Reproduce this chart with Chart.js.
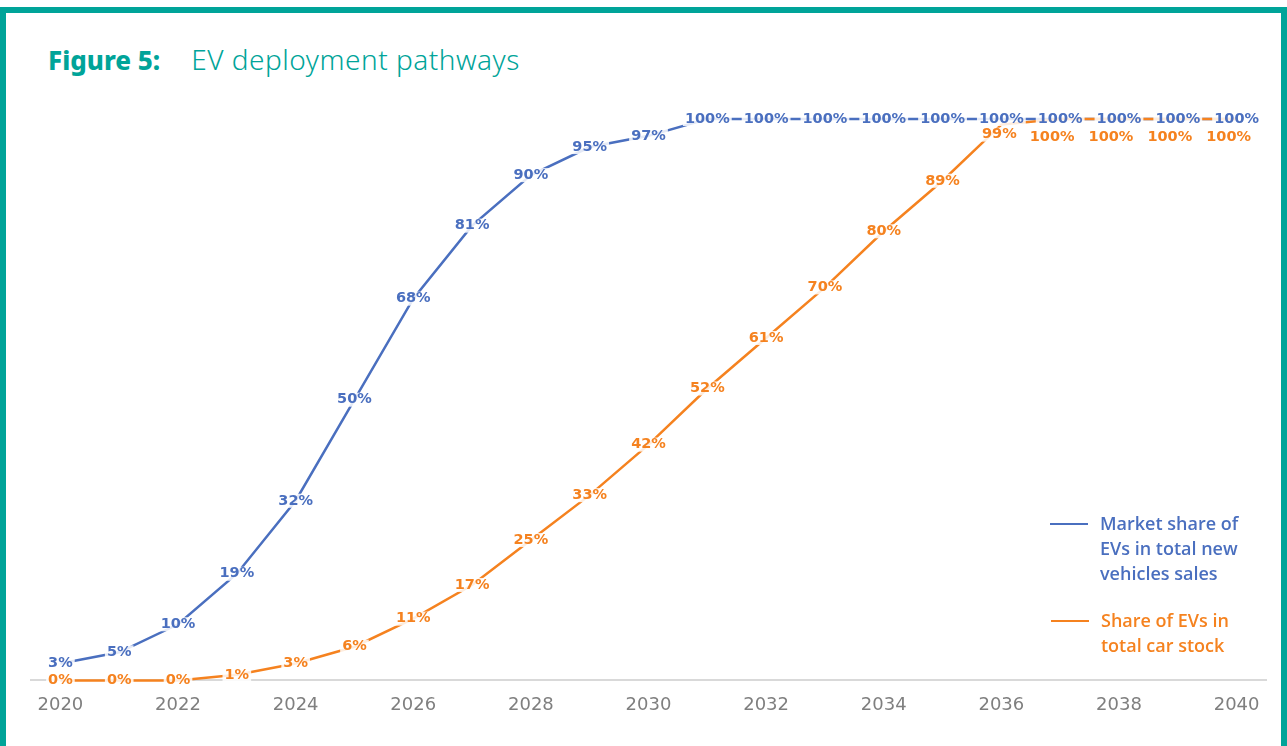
<!DOCTYPE html>
<html>
<head>
<meta charset="utf-8">
<script src="https://cdn.jsdelivr.net/npm/chart.js@4.4.0/dist/chart.umd.min.js"></script>
<style>
  html, body { margin: 0; padding: 0; background: #fff; }
  #frame {
    position: absolute; left: 0; top: 7px; width: 1275px; height: 760px;
    border: 6px solid #00A499; border-bottom: none; background: #fff;
  }
  #title {
    position: absolute; left: 48px; top: 40px; color: #00A499;
    font-family: "Noto Sans", "Open Sans", sans-serif; font-size: 26px; white-space: nowrap;
  }
  #title b { font-weight: 800; margin-right: 31px; }
  #title span { font-size: 28px; letter-spacing: 0.5px; font-weight: 300; }
  #chartWrap { position: absolute; left: 0; top: 0; width: 1287px; height: 746px; }
  .leg { position: absolute; font-family: "Open Sans", sans-serif; font-size: 18px; font-weight: 600; line-height: 25px; }
  .leg i { position: absolute; left: -50px; top: 12px; width: 38px; height: 2px; }
</style>
</head>
<body>
<div id="frame"></div>
<div id="title"><b>Figure 5:</b><span>EV deployment pathways</span></div>
<div id="chartWrap"><canvas id="chart" width="1287" height="746"></canvas></div>
<div class="leg" style="left:1100px; top:511px; color:#4A6FBF;"><i style="background:#4A6FBF"></i>Market share of<br>EVs in total new<br>vehicles sales</div>
<div class="leg" style="left:1101px; top:608px; color:#F5821F;"><i style="background:#F5821F"></i>Share of EVs in<br>total car stock</div>
<script>
var years = ['2020', '2021', '2022', '2023', '2024', '2025', '2026', '2027', '2028', '2029', '2030',
    '2031', '2032', '2033', '2034', '2035', '2036', '2037', '2038', '2039', '2040'];
var marketShare = [3, 5, 10, 19, 32, 50, 68, 81, 90, 95, 97, 100, 100, 100, 100, 100, 100, 100, 100, 100, 100];
var stockShare = [0, 0, 0, 1, 3, 6, 11, 17, 25, 33, 42, 52, 61, 70, 80, 89, 99, 100, 100, 100, 100];

var blue = '#4A6FBF';
var orange = '#F5821F';

// draws the value labels on a white box over each point
var pointLabels = {
    id: 'pointLabels',
    afterDatasetsDraw: function (chart) {
        var ctx = chart.ctx;
        ctx.save();
        ctx.font = '700 14.5px "DejaVu Sans", sans-serif';
        ctx.textAlign = 'center';
        ctx.textBaseline = 'middle';
        chart.data.datasets.forEach(function (ds, i) {
            var meta = chart.getDatasetMeta(i);
            meta.data.forEach(function (pt, j) {
                var v = ds.data[j];
                var x = pt.x, y = pt.y;
                if (i === 1 && v >= 99) {
                    y += v === 100 ? 18 : 10;
                    x -= v === 100 ? 8 : 2;
                }
                var txt = v + '%';
                var w = ctx.measureText(txt).width;
                ctx.fillStyle = 'rgba(255,255,255,0.85)';
                ctx.fillRect(x - w / 2 - 2, y - 7, w + 4, 14);
                ctx.fillStyle = ds.borderColor;
                ctx.fillText(txt, x, y);
            });
        });
        ctx.restore();
    }
};

var config = {
    type: 'line',
    data: {
        labels: years,
        datasets: [{
            label: 'Market share of EVs in total new vehicles sales',
            data: marketShare,
            borderColor: blue,
            backgroundColor: blue,
            borderWidth: 2.5,
            pointRadius: 0,
            fill: false,
            order: 1
        }, {
            label: 'Share of EVs in total car stock',
            data: stockShare,
            borderColor: orange,
            backgroundColor: orange,
            borderWidth: 2.5,
            pointRadius: 0,
            fill: false,
            order: 0
        }]
    },
    options: {
        responsive: false,
        animation: false,
        clip: false,
        layout: { padding: { left: 31, right: 21, top: 119, bottom: 16 } },
        plugins: {
            legend: { display: false },
            title: { display: false },
            tooltip: { enabled: false }
        },
        scales: {
            x: {
                offset: true,
                grid: { display: false, drawTicks: false },
                border: { display: true, color: '#D9D9D9', width: 2 },
                ticks: {
                    autoSkip: false,
                    maxRotation: 0,
                    padding: 14,
                    color: '#7F7F7F',
                    font: { family: '"DejaVu Sans", sans-serif', size: 18 },
                    callback: function (val, idx) {
                        return idx % 2 === 0 ? this.getLabelForValue(val) : '';
                    }
                }
            },
            y: {
                display: false,
                min: 0,
                max: 100
            }
        }
    },
    plugins: [pointLabels]
};

var ctx = document.getElementById('chart').getContext('2d');
new Chart(ctx, config);
</script>
</body>
</html>
